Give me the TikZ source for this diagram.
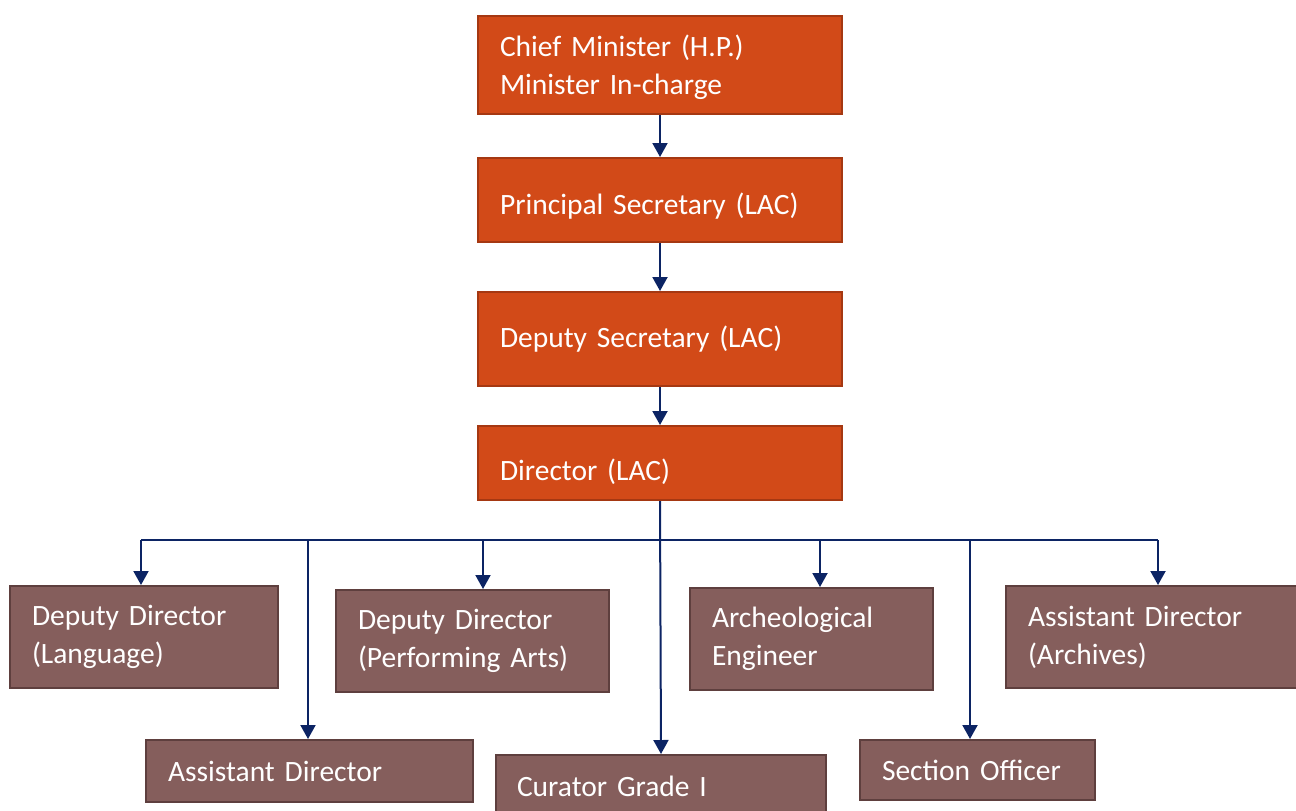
\documentclass[tikz,border=0pt]{standalone}
\usepackage{fontspec}
\setmainfont{Carlito}
\usetikzlibrary{arrows.meta}
\definecolor{topfill}{RGB}{210,74,24}
\definecolor{topline}{RGB}{165,56,18}
\definecolor{botfill}{RGB}{133,94,92}
\definecolor{botline}{RGB}{94,63,62}
\definecolor{navy}{RGB}{12,36,100}
\newcommand\dn[2]{\raisebox{-#1pt}[\height][\depth]{#2}}
\newcommand\boxfont{\fontsize{29.5}{38}\selectfont\spaceskip=0.19em plus 0.05em minus 0.02em\relax}
\tikzset{
  box/.style={draw, line width=2pt, inner xsep=0pt, inner ysep=0pt, align=left, text=white,
    font=\boxfont},
  topbox/.style={box, fill=topfill, draw=topline},
  botbox/.style={box, fill=botfill, draw=botline},
  arr/.style={draw=navy, line width=2pt, -{Triangle[width=15pt,length=14pt]}},
  bus/.style={draw=navy, line width=2pt},
}
\begin{document}
\begin{tikzpicture}[x=1pt,y=-1pt]
\useasboundingbox (0,0) rectangle (1296,811);
\begin{scope}
\clip (0,0) rectangle (1296,811);
% top chain
\node[topbox, minimum width=364, minimum height=98, text width=320] (chief) at (660,65) {\dn{2}{Chief Minister (H.P.)}\\\dn{2}{Minister In-charge}};
\node[topbox, minimum width=364, minimum height=84, text width=320] (psec) at (660,200) {\dn{6}{Principal Secretary (LAC)}};
\node[topbox, minimum width=364, minimum height=94, text width=320] (dsec) at (660,339) {Deputy Secretary (LAC)};
\node[topbox, minimum width=364, minimum height=74, text width=320] (dir) at (660,463) {\dn{9}{Director (LAC)}};
% bottom row 1
\node[botbox, minimum width=268, minimum height=102, text width=224] (ddl) at (144,637) {Deputy Director\\(Language)};
\node[botbox, minimum width=273, minimum height=102, text width=229] (ddp) at (472.5,641) {Deputy Director\\(Performing Arts)};
\node[botbox, minimum width=243, minimum height=102, text width=199] (ae) at (811.5,639) {Archeological\\Engineer};
\node[botbox, minimum width=300, minimum height=102, text width=256] (ada) at (1156,637) {Assistant Director\\(Archives)};
% bottom row 2
\node[botbox, minimum width=327, minimum height=62, text width=283] (ad) at (309.5,771) {Assistant Director};
\node[botbox, minimum width=330, minimum height=62, text width=288] (cur) at (661,786) {Curator Grade I};
\node[botbox, minimum width=235, minimum height=60, text width=191] (so) at (977.5,770) {Section Officer};
\end{scope}
% connectors
\draw[arr] (chief.south) -- (psec.north);
\draw[arr] (psec.south) -- (dsec.north);
\draw[arr] (dsec.south) -- (dir.north);
\coordinate (b1) at (141,540);
\coordinate (b2) at (308,540);
\coordinate (b3) at (483,540);
\coordinate (b5) at (820,540);
\coordinate (b6) at (970,540);
\coordinate (b7) at (1158,540);
\draw[bus] (b1) -- (b7);
\draw[arr] (dir.south) -- (cur.north);
\draw[arr] (b1) -- (b1 |- ddl.north);
\draw[arr] (b2) -- (b2 |- ad.north);
\draw[arr] (b3) -- (b3 |- ddp.north);
\draw[arr] (b5) -- (b5 |- ae.north);
\draw[arr] (b6) -- (b6 |- so.north);
\draw[arr] (b7) -- (b7 |- ada.north);
\end{tikzpicture}
\end{document}
